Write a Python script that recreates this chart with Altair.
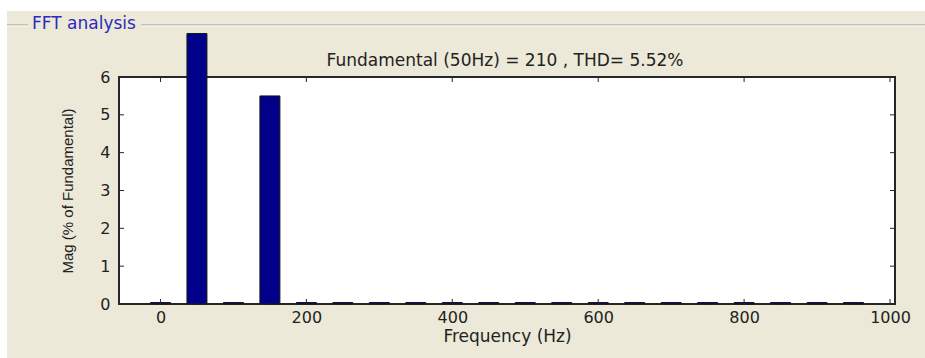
import altair as alt
import pandas as pd

# ---------------- data ----------------
freqs = [0, 50, 100, 150, 200, 250, 300, 350, 400, 450, 500,
         550, 600, 650, 700, 750, 800, 850, 900, 950]
mags = [0.04, 7.15, 0.04, 5.5, 0.04, 0.04, 0.04, 0.04, 0.04, 0.04, 0.04,
        0.04, 0.04, 0.04, 0.04, 0.04, 0.04, 0.04, 0.04, 0.04]
x_ticks = [0, 200, 400, 600, 800, 1000]
y_ticks = [0, 1, 2, 3, 4, 5, 6]
x_domain = [-50, 1000]
y_domain = [0, 6]
title_text = "Fundamental (50Hz) = 210 , THD= 5.52%"
panel_title = "FFT analysis"
x_title = "Frequency (Hz)"
y_title = "Mag (% of Fundamental)"

# ---------------- style ----------------
W, H = 776, 227
BEIGE = "#ECE9D8"
NAVY = "#000088"
FRAME = "#262626"
FONT = "DejaVu Sans"

df = pd.DataFrame({"freq": freqs, "mag": mags})
one = pd.DataFrame({"a": [0]})

xs = alt.Scale(domain=x_domain, nice=False, zero=False)
ys = alt.Scale(domain=y_domain, nice=False, zero=False)

x_axis = alt.Axis(values=x_ticks, title=x_title, format="d", domain=False, ticks=False,
                  grid=False, labelFont=FONT, labelFontSize=16, labelColor="#222222",
                  labelPadding=5, labelFlush=False, labelOverlap=False,
                  titleFont=FONT, titleFontSize=17, titleFontWeight="normal",
                  titleColor="#222222", titlePadding=3, zindex=1)
y_axis = alt.Axis(values=y_ticks, title=y_title, format="d", domain=False, ticks=False,
                  grid=False, labelFont=FONT, labelFontSize=16, labelColor="#222222",
                  labelPadding=9, labelOverlap=False,
                  titleFont="Liberation Sans", titleFontSize=15, titleFontWeight="normal",
                  titleColor="#222222", titlePadding=24, zindex=1)

X = alt.X("freq:Q", scale=xs, axis=x_axis)
Y = alt.Y("mag:Q", scale=ys, axis=y_axis)

bars = alt.Chart(df).mark_bar(size=20, orient="vertical", color=NAVY,
                              stroke="#1a1a1a", strokeWidth=1).encode(x=X, y=Y)

xt = pd.DataFrame({"freq": x_ticks})
yt = pd.DataFrame({"mag": y_ticks})
tick_style = dict(color=FRAME, strokeWidth=1)
bottom_ticks = alt.Chart(xt).mark_rule(**tick_style).encode(
    x=X, y=alt.value(H), y2=alt.value(H - 5))
top_ticks = alt.Chart(xt).mark_rule(**tick_style).encode(
    x=X, y=alt.value(0), y2=alt.value(5))
left_ticks = alt.Chart(yt).mark_rule(**tick_style).encode(
    y=Y, x=alt.value(0), x2=alt.value(5))
right_ticks = alt.Chart(yt).mark_rule(**tick_style).encode(
    y=Y, x=alt.value(W), x2=alt.value(W - 5))

# white margins outside the panel
white_top = alt.Chart(one).mark_rect(color="white").encode(
    x=alt.value(-119), x2=alt.value(W + 30), y=alt.value(-77), y2=alt.value(-66))
white_left = alt.Chart(one).mark_rect(color="white").encode(
    x=alt.value(-119), x2=alt.value(-112), y=alt.value(-77), y2=alt.value(H + 54))

# group box line
GAP_END = 22
gline1a = alt.Chart(one).mark_rule(color="#9a9a9a", strokeWidth=1).encode(
    x=alt.value(-112), x2=alt.value(-91), y=alt.value(-52))
gline1b = alt.Chart(one).mark_rule(color="#9a9a9a", strokeWidth=1).encode(
    x=alt.value(GAP_END), x2=alt.value(W + 30), y=alt.value(-52))
gline2a = alt.Chart(one).mark_rule(color="white", strokeWidth=1).encode(
    x=alt.value(-112), x2=alt.value(-91), y=alt.value(-51))
gline2b = alt.Chart(one).mark_rule(color="white", strokeWidth=1).encode(
    x=alt.value(GAP_END), x2=alt.value(W + 30), y=alt.value(-51))

panel_txt = alt.Chart(pd.DataFrame({"t": [panel_title]})).mark_text(
    font=FONT, fontSize=17, color="#2B2BBF", align="left", baseline="middle").encode(
    text="t:N", x=alt.value(-87), y=alt.value(-53))

title_txt = alt.Chart(pd.DataFrame({"t": [title_text]})).mark_text(
    font=FONT, fontSize=17, color="#222222", align="center", baseline="middle").encode(
    text="t:N", x=alt.value(386), y=alt.value(-16))

chart = alt.layer(
    white_top, white_left, gline1a, gline1b, gline2a, gline2b, panel_txt, title_txt,
    bars, bottom_ticks, top_ticks, left_ticks, right_ticks
).properties(
    width=W, height=H,
    padding={"left": 119, "top": 77, "right": 30, "bottom": 54},
    autosize=alt.AutoSizeParams(type="none"),
).configure(background=BEIGE).configure_view(
    fill="white", stroke=FRAME, strokeWidth=2
)

chart.save("out.html", embed_options={"renderer": "svg", "actions": False})
